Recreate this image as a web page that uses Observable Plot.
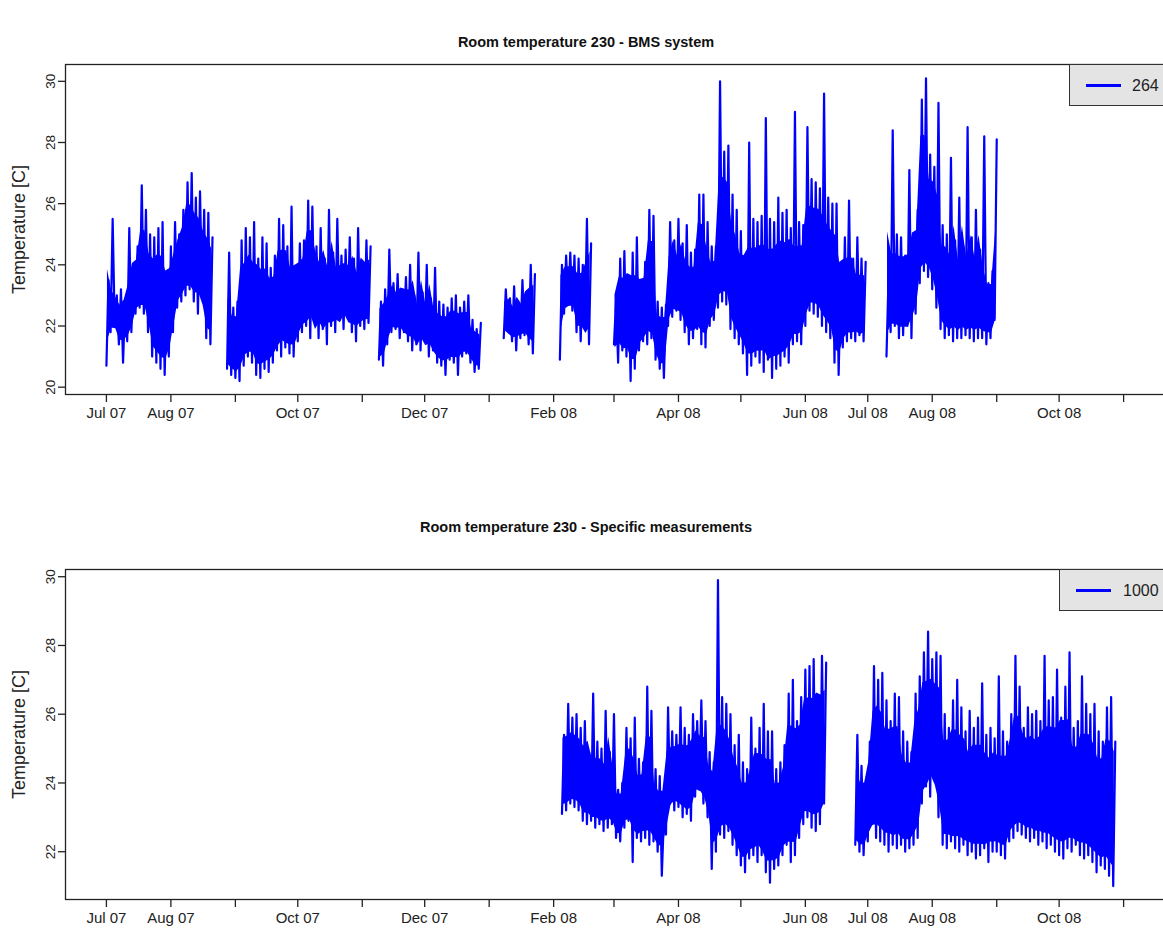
<!DOCTYPE html>
<html>
<head>
<meta charset="utf-8">
<script src="https://cdn.jsdelivr.net/npm/d3@7"></script>
<script src="https://cdn.jsdelivr.net/npm/@observablehq/plot@0.6"></script>
<style>
  html, body { margin: 0; padding: 0; background: #fff; overflow: hidden; }
  body { font-family: "Liberation Sans", Arial, Helvetica, sans-serif; }
  #wrap { position: relative; width: 1163px; height: 935px; overflow: hidden; background: #fff; }
  .title { position: absolute; font-weight: bold; font-size: 14.5px; white-space: nowrap; transform: translate(-50%, -50%); color: #111; }
  .panel { position: absolute; left: 0; width: 1180px; }
  .panel svg { max-width: none !important; }
  .legend { position: absolute; width: 130px; height: 42px; background: #e4e4e4; border: 1.3px solid #333; box-sizing: border-box; }
  .legend svg { position: absolute; left: 0; top: 0; }
</style>
</head>
<body>
<div id="wrap"></div>
<script>
// ---------------- DATA ----------------
// Month ticks and their labels (as printed on the original axes)
const tickMonths = ["2007-07-01","2007-08-01","2007-09-01","2007-10-01","2007-11-01","2007-12-01",
  "2008-01-01","2008-02-01","2008-03-01","2008-04-01","2008-05-01","2008-06-01","2008-07-01",
  "2008-08-01","2008-09-01","2008-10-01","2008-11-01"];
const tickLabels = ["Jul 07","Aug 07","","Oct 07","","Dec 07","","Feb 08","","Apr 08","","Jun 08","Jul 08",
  "Aug 08","","Oct 08",""];

// Panel 1: BMS system — recorded segments, 2-day envelope (low / high) of the hourly trace
const bmsStart = ["2007-07-01","2007-08-28","2007-11-09","2008-01-08","2008-02-04","2008-03-01","2008-07-10"];
const bmsHigh = [
  [23.5,25.5,23.0,23.2,22.8,25.2,23.8,24.6,26.6,25.8,25.0,24.9,25.2,25.4,23.2,24.6,25.4,25.0,25.8,26.7,27.0,26.2,26.4,25.8,25.7,24.9],
  [24.4,22.6,22.8,24.8,25.2,24.9,25.4,24.2,24.9,24.7,23.9,24.3,25.5,25.3,24.6,25.9,23.6,24.7,24.8,26.1,25.9,24.6,25.2,24.2,25.8,24.4,25.5,24.3,24.5,24.9,24.2,25.2,24.0,24.8,24.6],
  [22.8,23.2,24.5,23.4,23.7,23.2,23.6,24.0,23.0,24.4,23.1,24.0,22.9,23.9,22.8,22.7,22.6,22.9,23.0,22.6,22.8,23.0,22.2,21.9,22.1],
  [23.2,22.9,23.3,22.8,23.5,23.0,24.0,23.7],
  [24.0,24.3,24.4,24.3,24.2,24.0,25.5,24.7],
  [22.8,24.2,24.45,23.5,24.4,24.9,22.7,24.1,25.8,25.6,22.8,22.6,22.7,25.4,24.8,25.5,24.7,25.3,24.4,24.5,
   26.3,26.3,25.4,24.6,24.6,30.0,27.7,27.9,26.3,25.8,25.1,23.8,28.0,25.5,25.4,25.6,28.8,25.5,25.4,26.2,
   25.7,25.8,25.2,29.0,25.4,25.3,28.5,26.8,26.7,26.5,29.6,26.2,26.0,26.0,23.5,24.9,26.1,24.2,24.9,24.2,24.1],
  [23.6,28.4,25.0,24.9,24.3,27.1,25.0,25.8,29.4,30.1,27.6,27.2,29.3,25.3,25.0,27.5,24.8,26.2,24.6,28.5,24.9,25.8,24.5,28.2,23.4,23.8,28.1]
];
const bmsLow = [
  [20.7,21.8,22.0,21.4,20.8,21.5,21.8,22.4,22.6,22.4,21.8,21.0,20.8,20.6,20.4,21.0,21.8,22.6,22.8,23.0,23.2,22.8,22.4,23.0,21.6,21.4],
  [20.6,20.4,20.3,20.2,20.7,21.0,20.8,20.4,20.3,20.6,20.5,20.8,21.2,21.0,21.3,21.1,21.0,21.5,21.8,22.0,21.6,22.2,21.6,21.9,21.4,22.0,21.8,22.2,21.9,22.4,21.8,21.5,22.0,21.9,22.1],
  [20.9,20.7,21.4,21.8,21.9,21.6,21.8,21.5,21.2,21.4,21.2,21.5,21.0,21.2,20.8,20.7,20.4,20.9,20.8,20.4,21.0,21.1,20.8,20.5,20.6],
  [21.6,21.9,21.5,21.2,21.6,21.7,21.4,21.1],
  [20.9,22.4,22.7,22.5,21.8,21.5,22.0,21.4],
  [21.4,20.8,21.2,21.0,20.2,20.6,21.2,21.5,21.4,21.6,20.9,20.6,20.3,22.0,22.3,22.5,22.2,21.8,21.4,21.6,
   21.9,21.4,21.3,22.0,22.2,22.6,22.8,22.7,21.9,21.6,21.4,21.1,20.4,20.7,21.0,20.8,20.5,20.9,20.3,20.6,
   20.7,21.0,20.8,21.4,21.5,21.4,22.0,22.5,22.4,22.3,22.0,21.8,21.6,20.8,20.4,21.3,21.5,21.6,21.5,21.7,21.5],
  [21.0,21.8,22.0,21.6,21.7,22.0,21.6,22.4,23.4,23.8,23.6,23.2,22.6,21.9,21.6,21.7,21.5,21.6,21.6,21.7,21.6,21.5,21.6,21.6,21.4,21.6,22.2]
];

// Panel 2: Specific measurements
const specStart = ["2008-02-05","2008-06-25"];
const specHigh = [
  [25.4,26.3,25.9,26.0,25.6,25.8,24.9,26.6,25.2,25.0,26.1,24.9,26.0,23.8,24.0,25.6,25.3,25.9,24.7,24.6,
   26.8,26.1,24.4,24.2,23.0,26.2,25.5,25.4,26.2,25.6,25.4,26.0,25.8,26.4,25.8,24.9,24.6,29.9,26.5,26.3,
   26.0,25.1,25.4,24.6,24.4,25.9,25.0,25.6,26.3,25.5,25.5,24.4,24.6,25.1,26.6,27.0,25.8,26.5,27.3,27.4,
   27.6,26.5,27.7,27.5],
  [25.4,24.5,23.8,25.2,27.4,27.0,27.2,26.4,25.8,26.6,26.5,25.5,25.2,24.9,26.6,27.1,27.8,28.4,27.6,27.8,
   27.7,26.0,25.6,26.4,27.0,26.2,25.5,26.1,25.6,25.9,26.9,25.4,25.6,25.3,27.1,25.5,25.2,26.0,27.7,26.8,
   25.6,26.2,26.0,26.1,25.8,27.7,26.4,26.5,27.3,25.9,26.8,27.8,25.6,25.8,27.1,26.3,26.0,26.3,25.5,25.2,
   26.2,26.5,25.2]
];
const specLow = [
  [23.1,23.2,23.4,23.3,23.2,22.9,22.8,22.9,22.7,22.8,22.6,22.7,22.8,22.4,22.3,22.7,22.9,21.7,22.4,22.3,
   22.4,22.2,22.3,22.0,21.3,22.5,23.4,23.2,23.3,23.0,23.1,22.9,23.6,23.8,23.4,23.0,21.5,22.0,22.5,22.4,
   22.6,22.2,21.9,21.6,21.4,21.8,21.9,21.7,21.9,21.4,21.1,21.5,21.6,21.9,22.2,21.7,21.9,22.4,22.8,23.0,
   22.7,22.6,22.8,23.4],
  [22.2,22.0,21.9,22.3,22.8,22.4,22.3,22.2,22.0,22.2,22.1,22.2,22.0,22.1,22.2,22.4,23.4,23.9,23.6,24.3,
   23.0,22.2,22.1,22.3,22.1,22.0,22.2,21.9,22.0,21.8,21.9,22.1,21.7,22.0,22.0,21.9,21.8,22.3,22.4,22.6,
   22.5,22.4,22.3,22.4,22.2,22.3,22.1,22.2,22.0,21.9,21.8,22.1,22.0,22.2,21.9,21.8,21.9,21.7,21.4,21.6,
   21.5,21.3,21.0]
];

const legendCounts = ["264", "1000"];
const titles = ["Room temperature 230 - BMS system", "Room temperature 230 - Specific measurements"];

// ---------------- BUILD ----------------
const DAY = 864e5;
// hourly trace drawn as a line through the read low/high envelope
function toPoints(starts, highs, lows) {
  const pts = [];
  starts.forEach((s, k) => {
    const t0 = new Date(s + "T00:00:00Z").getTime();
    highs[k].forEach((h, i) => {
      pts.push({date: new Date(t0 + 2 * i * DAY), temp: lows[k][i], seg: k});
      pts.push({date: new Date(t0 + (2 * i + 1) * DAY), temp: h, seg: k});
    });
  });
  return pts;
}
// dense core of the trace: inner part of the running-median envelope,
// leaving the ragged edges and single spikes to the line above
function toCore(starts, highs, lows) {
  const rows = [];
  starts.forEach((s, k) => {
    const t0 = new Date(s + "T00:00:00Z").getTime();
    const H = highs[k], L = lows[k], n = H.length;
    for (let i = 0; i < n; i++) {
      const a = Math.max(0, i - 1), b = Math.min(n, i + 2);
      const mh = d3.median(H.slice(a, b)), ml = d3.median(L.slice(a, b));
      rows.push({date: new Date(t0 + (2 * i + 0.5) * DAY), lo: ml + 0.08 * (mh - ml), hi: ml + 0.8 * (mh - ml), seg: k});
    }
  });
  return rows;
}

const ticks = tickMonths.map(s => new Date(s + "T00:00:00Z"));
const labelOf = new Map(ticks.map((d, i) => [+d, tickLabels[i]]));
const xDomain = [new Date("2007-06-11T08:00:00Z"), new Date("2008-11-24T12:00:00Z")];
const FONT = "'Liberation Sans', Arial, Helvetica, sans-serif";
const BLUE = "#0000ff";

function panel(points, core, yDomain, yTicks) {
  return Plot.plot({
    width: 1180,
    height: 440,
    marginLeft: 65,
    marginRight: 8,
    marginTop: 64,
    marginBottom: 46,
    style: {fontFamily: FONT, fontSize: "14px", color: "#222", background: "transparent", maxWidth: "none"},
    x: {type: "utc", domain: xDomain},
    y: {domain: yDomain},
    marks: [
      Plot.areaY(core, {x: "date", y1: "lo", y2: "hi", z: "seg", fill: BLUE, curve: "linear"}),
      Plot.line(points, {x: "date", y: "temp", z: "seg", stroke: BLUE, strokeWidth: 2.2, curve: "linear"}),
      Plot.frame({stroke: "#222", strokeWidth: 1.3}),
      Plot.axisX({ticks, tickFormat: d => labelOf.get(+d) ?? "", tickSize: 8, tickPadding: 5, label: null,
        fontSize: 15, stroke: "#222", strokeWidth: 1.3}),
      Plot.axisY({ticks: yTicks, tickSize: 7, tickPadding: 4, tickRotate: -90, label: null,
        fontSize: 13.5, stroke: "#222", strokeWidth: 1.3}),
      Plot.axisY({ticks: [], tickSize: 0, label: "Temperature [C]", labelAnchor: "center", labelArrow: "none",
        labelOffset: 53, fontSize: 18})
    ]
  });
}

const wrap = document.getElementById("wrap");
const panelTops = [0, 505];
const panels = [
  panel(toPoints(bmsStart, bmsHigh, bmsLow), toCore(bmsStart, bmsHigh, bmsLow), [19.76, 30.55], [20, 22, 24, 26, 28, 30]),
  panel(toPoints(specStart, specHigh, specLow), toCore(specStart, specHigh, specLow), [20.61, 30.21], [22, 24, 26, 28, 30])
];
const titleY = [42, 527];
const legendPos = [{left: 1069, top: 64, lx: 16, tx: 62}, {left: 1059, top: 569, lx: 16, tx: 63}];

panels.forEach((svg, k) => {
  const div = document.createElement("div");
  div.className = "panel";
  div.style.top = panelTops[k] + "px";
  div.appendChild(svg);
  wrap.appendChild(div);

  const t = document.createElement("div");
  t.className = "title";
  t.style.left = "586px";
  t.style.top = titleY[k] + "px";
  t.textContent = titles[k];
  wrap.appendChild(t);

  const lg = document.createElement("div");
  lg.className = "legend";
  lg.style.left = legendPos[k].left + "px";
  lg.style.top = legendPos[k].top + "px";
  const ns = "http://www.w3.org/2000/svg";
  const s = document.createElementNS(ns, "svg");
  s.setAttribute("width", 130); s.setAttribute("height", 42);
  const ln = document.createElementNS(ns, "line");
  ln.setAttribute("x1", legendPos[k].lx); ln.setAttribute("x2", legendPos[k].lx + 35);
  ln.setAttribute("y1", 20.5); ln.setAttribute("y2", 20.5);
  ln.setAttribute("stroke", BLUE); ln.setAttribute("stroke-width", 3);
  s.appendChild(ln);
  const tx = document.createElementNS(ns, "text");
  tx.setAttribute("x", legendPos[k].tx); tx.setAttribute("y", 26);
  tx.setAttribute("font-size", "16px");
  tx.setAttribute("font-family", FONT);
  tx.setAttribute("fill", "#222");
  tx.textContent = legendCounts[k];
  s.appendChild(tx);
  lg.appendChild(s);
  wrap.appendChild(lg);
});
</script>
</body>
</html>
